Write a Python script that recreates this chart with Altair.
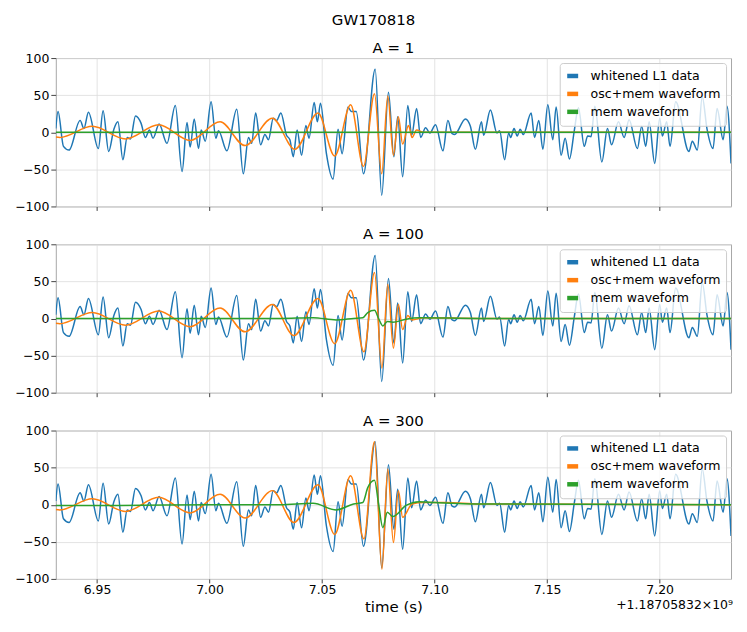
import altair as alt
import pandas as pd

# ---------------- data ----------------
X_DOMAIN = [6.9317, 7.2317]
X_TICKS = [6.95, 7.00, 7.05, 7.10, 7.15, 7.20]
Y_TICKS = [-100, -50, 0, 50, 100]
OFFSET_TEXT = "+1.18705832\u00d710\u2079"
SERIES = ["whitened L1 data", "osc+mem waveform", "mem waveform"]
COLORS = ["#1f77b4", "#ff7f0e", "#2ca02c"]
PANEL_TITLES = ["A = 1", "A = 100", "A = 300"]

# whitened L1 data (same in all panels)
data_t = [
    6.9317, 6.9327, 6.9351, 6.9376, 6.9425, 6.9442, 6.9462, 6.9506, 6.9527, 6.9552,
    6.9575, 6.9593, 6.9615, 6.9634, 6.9649, 6.9671, 6.9696, 6.9715, 6.9733, 6.9749,
    6.9776, 6.9811, 6.9848, 6.9878, 6.9900, 6.9914, 6.9932, 6.9951, 6.9963, 6.9981,
    7.0007, 7.0028, 7.0040, 7.0077, 7.0121, 7.0150, 7.0173, 7.0187, 7.0205, 7.0227,
    7.0246, 7.0262, 7.0283, 7.0298, 7.0317, 7.0342, 7.0357, 7.0372, 7.0389, 7.0409,
    7.0428, 7.0442, 7.0465, 7.0479, 7.0493, 7.0519, 7.0549, 7.0571, 7.0589, 7.0615,
    7.0630, 7.0652, 7.0684, 7.0736, 7.0765, 7.0795, 7.0819, 7.0836, 7.0858, 7.0881,
    7.0898, 7.0920, 7.0938, 7.0960, 7.0979, 7.1004, 7.1037, 7.1059, 7.1078, 7.1089,
    7.1137, 7.1159, 7.1181, 7.1208, 7.1218, 7.1248, 7.1277, 7.1289, 7.1311, 7.1329,
    7.1338, 7.1353, 7.1367, 7.1380, 7.1394, 7.1429, 7.1444, 7.1463, 7.1481, 7.1503,
    7.1525, 7.1540, 7.1562, 7.1580, 7.1599, 7.1621, 7.1639, 7.1665, 7.1680, 7.1695,
    7.1712, 7.1743, 7.1768, 7.1786, 7.1817, 7.1842, 7.1864, 7.1901, 7.1920, 7.1938,
    7.1953, 7.1978, 7.2000, 7.2012, 7.2031, 7.2046, 7.2071, 7.2130, 7.2145, 7.2167,
    7.2189, 7.2210, 7.2237, 7.2255, 7.2282, 7.2299, 7.2317,
]
data_v = [
    5, 28, -19, -24, 16, 5, 27, -22, 29, -26,
    4, 14, -37, -7, -9, 22, 12, -7, 3, -8,
    11, -15, 36, -53, 13, -20, 18, -22, 3, -12,
    41, -8, 2, -25, 31, -56, -7, -15, 26, -17,
    -3, -10, 19, 16, 26, -4, -10, -33, 3, -31,
    9, -8, 40, 14, 39, -28, -63, 4, -29, 34,
    28, 28, -56, 85, -85, 54, -33, 21, -60, 36,
    -4, 32, -7, 6, -1, 10, -25, 16, -2, -3,
    18, 8, -23, 14, -4, 30, -1, 2, -37, -1,
    -7, 5, -5, 4, -3, 26, -7, 16, -23, 37,
    -10, 34, -31, -8, -36, 3, 33, -19, -5, -6,
    35, -40, 5, -17, 14, -7, 17, -22, 8, -19,
    14, -42, 19, -5, 14, -19, 41, -26, -12, -24,
    48, 5, -22, 32, -10, 35, -42,
]

# osc+mem waveform: inspiral part (identical in all panels)
wave_early_t = [6.9317, 6.9335, 6.9479, 6.9627, 6.9774, 6.9914, 7.0047, 7.0158, 7.0279]
wave_early_v = [-6.5, -7, 8, -9, 10, -11, 14, -18, 19]

# osc+mem waveform: merger part, per panel
wave1_t = [7.0379, 7.0482, 7.0556, 7.0627, 7.0684, 7.0733, 7.0765, 7.0792, 7.0817,
           7.0839, 7.0858, 7.0884, 7.0900, 7.0920, 7.0950, 7.2317]
wave1_v = [-23, 26, -32, 37, -46, 52, -56, 49, -31, 21, -16, 9, -7, 3, 0, 0]

wave2_t = [7.0375, 7.0482, 7.0556, 7.0627, 7.0686, 7.0733, 7.0766, 7.0792, 7.0817,
           7.0839, 7.0858, 7.0881, 7.0900, 7.0950, 7.1200, 7.2317]
wave2_v = [-23, 27, -34, 38, -45, 62, -67, 46, -40, 19, -15, 4, -2, 1, 0, 0]

wave3_t = [7.0375, 7.0482, 7.0556, 7.0627, 7.0686, 7.0733, 7.0766, 7.0792, 7.0817,
           7.0839, 7.0858, 7.0900, 7.0950, 7.1050, 7.1200, 7.2317]
wave3_v = [-24, 27, -40, 39, -46, 85, -87, 48, -51, 19, -17, 1, 3, 3, 1, 0]

# mem waveform, per panel
mem1_t = [6.9317, 7.2317]
mem1_v = [0, 0]

mem2_t = [6.9317, 7.0313, 7.0460, 7.0563, 7.0640, 7.0681, 7.0703, 7.0733, 7.0751,
          7.0770, 7.0790, 7.0814, 7.0873, 7.0932, 7.1200, 7.2317]
mem2_v = [0, 0, 1, -2, 0, 1, 8, 11, 0, -10, -4, -5, -1, 1, 0, 0]

mem3_t = [6.9317, 6.9600, 7.0000, 7.0313, 7.0460, 7.0563, 7.0640, 7.0681, 7.0703,
          7.0733, 7.0751, 7.0770, 7.0790, 7.0814, 7.0873, 7.0932, 7.1000, 7.1200, 7.2317]
mem3_v = [-1, -1, 0, 0, 2, -7, 1, 3, 23, 33, 1, -31, -10, -16, -1, 4, 3, 1, 0]

# ---------------- chart ----------------
W, H = 678, 149
FONT = "DejaVu Sans"


def frame(ts, vs, name):
    return pd.DataFrame({"t": ts, "v": vs, "series": name})


def panel(title, wave_t, wave_v, mem_t, mem_v, bottom):
    df = pd.concat([
        frame(data_t, data_v, SERIES[0]),
        frame(wave_early_t + wave_t, wave_early_v + wave_v, SERIES[1]),
        frame(mem_t, mem_v, SERIES[2]),
    ], ignore_index=True)

    x_axis = alt.Axis(values=X_TICKS, format=".2f", labels=bottom, ticks=True,
                      title="time (s)" if bottom else None, tickSize=4,
                      labelPadding=1, titleFontSize=15, titleFontWeight="normal",
                      titlePadding=3, grid=True)
    y_axis = alt.Axis(values=Y_TICKS, title=None, tickSize=5, labelPadding=2,
                      grid=True, minExtent=42, maxExtent=42)

    base = alt.Chart(df).encode(
        x=alt.X("t:Q", scale=alt.Scale(domain=X_DOMAIN, nice=False, zero=False), axis=x_axis),
        y=alt.Y("v:Q", scale=alt.Scale(domain=[-100, 100], nice=False), axis=y_axis),
        color=alt.Color(
            "series:N",
            scale=alt.Scale(domain=SERIES, range=COLORS),
            legend=alt.Legend(
                title=None, orient="none", legendX=506, legendY=5, padding=5,
                fillColor="rgba(255,255,255,0.8)", strokeColor="#cccccc",
                cornerRadius=3, symbolType="stroke", symbolSize=121,
                symbolStrokeWidth=4.5, labelFontSize=12.6, labelFont=FONT,
                labelOffset=10, rowPadding=0, labelColor="black",
            ),
        ),
    )
    layers = []
    for s in SERIES:
        layers.append(
            base.transform_filter(alt.datum.series == s)
            .mark_line(strokeWidth=1.5, interpolate="monotone", clip=True)
        )
    if bottom:
        txt = alt.Chart(pd.DataFrame({"label": [OFFSET_TEXT]})).mark_text(
            align="right", baseline="middle", fontSize=12.5, font=FONT, color="black"
        ).encode(x=alt.value(W + 2), y=alt.value(H + 26), text="label:N")
        layers.append(txt)
    return alt.layer(*layers).properties(
        width=W, height=H,
        title=alt.Title(title, fontSize=15, fontWeight="normal", offset=-4,
                        anchor="middle", font=FONT),
    )


p1 = panel(PANEL_TITLES[0], wave1_t, wave1_v, mem1_t, mem1_v, False)
p2 = panel(PANEL_TITLES[1], wave2_t, wave2_v, mem2_t, mem2_v, False)
p3 = panel(PANEL_TITLES[2], wave3_t, wave3_v, mem3_t, mem3_v, True)

chart = (
    alt.vconcat(p1, p2, p3, spacing=13)
    .properties(
        title=alt.Title("GW170818", fontSize=15, fontWeight="normal",
                        anchor="middle", frame="bounds", offset=13, font=FONT),
        padding={"left": 5, "right": 5, "top": 3, "bottom": 5},
    )
    .resolve_scale(color="independent")
    .configure(font=FONT)
    .configure_axis(labelFont=FONT, labelFontSize=12.5, labelColor="black",
                    tickColor="#444444", gridColor="#dcdcdc", gridWidth=0.8,
                    domain=False, titleFont=FONT, titleColor="black")
    .configure_view(stroke="#a6a6a6", strokeWidth=1)
)

chart.save("out.html", embed_options={"renderer": "svg", "actions": False})
